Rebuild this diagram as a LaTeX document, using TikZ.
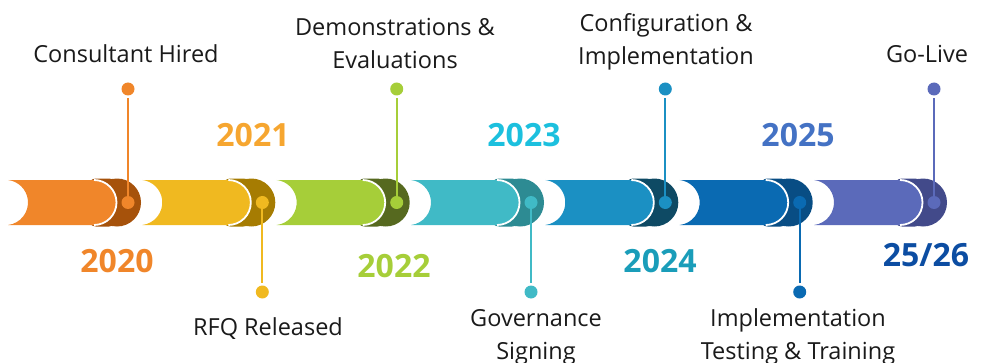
\documentclass[tikz,border=0pt]{standalone}
\usepackage{fontspec}
\setmainfont{Open Sans}
\definecolor{seg1}{HTML}{F0862A}\definecolor{seg1d}{HTML}{A6520B}
\definecolor{seg2}{HTML}{F0B920}\definecolor{seg2d}{HTML}{A67C02}
\definecolor{seg3}{HTML}{A6CE39}\definecolor{seg3d}{HTML}{56691F}
\definecolor{seg4}{HTML}{40BAC6}\definecolor{seg4d}{HTML}{2D8B93}
\definecolor{seg5}{HTML}{1B90C3}\definecolor{seg5d}{HTML}{0E4A64}
\definecolor{seg6}{HTML}{0A6AB2}\definecolor{seg6d}{HTML}{084D84}
\definecolor{seg7}{HTML}{5B6ABA}\definecolor{seg7d}{HTML}{424A8A}
\definecolor{y20}{HTML}{F0862A}\definecolor{y21}{HTML}{F6A630}
\definecolor{y22}{HTML}{A6CE39}\definecolor{y23}{HTML}{1CC0DE}
\definecolor{y24}{HTML}{1A9DB9}\definecolor{y25}{HTML}{4472C4}
\definecolor{y26}{HTML}{0C4DA2}\definecolor{txt}{HTML}{1A1A1A}
\begin{document}
\begin{tikzpicture}[x=1pt,y=1pt,
  lbl/.style={font=\fontsize{23.5}{33}\selectfont, text=txt, inner sep=0, anchor=base, align=center},
  yr/.style={font=\fontsize{32}{36}\selectfont\bfseries, inner sep=0, anchor=base},
  bdot/.style={circle, inner sep=0, minimum size=13},
  mdot/.style={circle, inner sep=0, minimum size=13, outer sep=2.5},
  conn/.style={line width=2}]
\useasboundingbox (0,0) rectangle (984,362);
\foreach \i/\s/\my in {1/8/273, 2/142.3/70, 3/276.7/273, 4/411/70, 5/545.3/273, 6/679.7/70, 7/814/273} {
  % dark cap
  \fill[seg\i d, rounded corners=8] (\s+80,135.5) rectangle (\s+109,183.5);
  \fill[seg\i d] (\s+109,159.5) circle[radius=24];
  % main body
  \fill[seg\i] (\s,182) -- (\s+86,182) arc[start angle=90,end angle=-90,radius=22.5]
     -- (\s,137) arc[start angle=-83.26,end angle=83.26,radius=22.66] -- cycle;
  \draw[white, line width=1.8] (\s+86,182) arc[start angle=90,end angle=-90,radius=22.5];
  % dots and connector
  \node[bdot, fill=seg\i] (b\i) at (\s+120,159.5) {};
  \node[mdot, fill=seg\i] (m\i) at (\s+120,\my) {};
  \draw[conn, seg\i] (b\i) -- (m\i);
}
\node[lbl] (t1) at (126,299) {Consultant Hired};
\node[lbl] (t2) at (268,27) {RFQ Released};
\node[lbl] (t3) at (395,293) {Demonstrations \&\\Evaluations};
\node[lbl] (t4) at (536,3) {Governance\\Signing};
\node[lbl] (t5) at (666,297) {Configuration \&\\Implementation};
\node[lbl] (t6) at (798,3) {Implementation\\Testing \& Training};
\node[lbl] (t7) at (927,299) {Go-Live};
\node[yr, text=y20] (y1) at (117,90) {2020};
\node[yr, text=y21] (y2) at (253,215) {2021};
\node[yr, text=y22] (y3) at (394,85) {2022};
\node[yr, text=y23] (y4) at (524,215) {2023};
\node[yr, text=y24] (y5) at (660,90) {2024};
\node[yr, text=y25] (y6) at (798,215) {2025};
\node[yr, text=y26] (y7) at (926,96) {25/26};
\end{tikzpicture}
\end{document}
